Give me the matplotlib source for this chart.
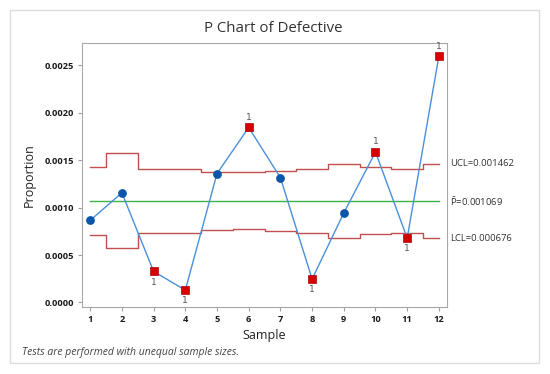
import numpy as np
import matplotlib.pyplot as plt
from matplotlib.patches import Rectangle

plt.rcParams['font.family'] = ['Open Sans', 'DejaVu Sans']

samples = np.arange(1, 13)
proportion = [0.000867, 0.001157, 0.000328, 0.000130, 0.001360, 0.001846,
              0.001317, 0.000247, 0.000945, 0.001587, 0.000679, 0.002598]
ucl = [0.001431, 0.001572, 0.001406, 0.001413, 0.001381, 0.001374,
       0.001392, 0.001410, 0.001463, 0.001424, 0.001410, 0.001462]
lcl = [0.000714, 0.000573, 0.000736, 0.000728, 0.000760, 0.000771,
       0.000753, 0.000735, 0.000683, 0.000718, 0.000733, 0.000676]
pbar = 0.001069
failed = [3, 4, 6, 8, 10, 11, 12]
label_above = [6, 10, 12]

W, H = 550, 374
fig = plt.figure(figsize=(5.5, 3.74), dpi=100)
fig.patches.append(Rectangle((10 / W, 1 - 363 / H), 529 / W, 353 / H,
                             transform=fig.transFigure, fill=False,
                             edgecolor='#dcdcdc', linewidth=1))
ax = fig.add_axes([81.5 / W, 1 - 307 / H, 365 / W, 263.5 / H])

ax.step(samples, ucl, where='mid', color='#c0504d', lw=1)
ax.step(samples, lcl, where='mid', color='#c0504d', lw=1)
ax.plot([1, 12], [pbar, pbar], color='#3cb44b', lw=1)
ax.plot(samples, proportion, color='#4a90d9', lw=1)

p = np.array(proportion)
ok = [i for i in samples if i not in failed]
ax.plot(ok, p[np.array(ok) - 1], 'o', color='#0b56a8', ms=5.3)
ax.plot(failed, p[np.array(failed) - 1], 's', color='#d50000', ms=5.3,
        markeredgecolor='#b00000', markeredgewidth=0.5)
# "1" = failed test 1, above or below the point
for s in failed:
    if s in label_above:
        ax.annotate('1', (s, p[s - 1]), xytext=(0, 4), textcoords='offset points',
                    ha='center', va='bottom', fontsize=6.5, color='#555555', family='DejaVu Sans')
    else:
        ax.annotate('1', (s, p[s - 1]), xytext=(0, -4.5), textcoords='offset points',
                    ha='center', va='top', fontsize=6.5, color='#555555', family='DejaVu Sans')

ax.set_xlim(0.725, 12.24)
ax.set_ylim(-0.0000475, 0.002732)
ax.set_xticks(samples)
ax.set_yticks([0, 0.0005, 0.001, 0.0015, 0.002, 0.0025])
ax.set_yticklabels(['0.0000', '0.0005', '0.0010', '0.0015', '0.0020', '0.0025'])
ax.tick_params(labelsize=6.7, length=3, pad=2.5, color='#a0a0a0', labelcolor='#1a1a1a')
for lab in ax.get_xticklabels() + ax.get_yticklabels():
    lab.set_fontweight('bold')
for sp in ax.spines.values():
    sp.set_color('#a8a8a8')

ax.set_xlabel('Sample', fontsize=9, color='#222222', labelpad=4)
ax.set_ylabel('Proportion', fontsize=9, color='#222222', labelpad=6)
fig.text(273 / W, 1 - 28 / H, 'P Chart of Defective', ha='center', va='center',
         fontsize=10.8, color='#333333')

ax.text(1.01, ucl[-1], 'UCL=0.001462', transform=ax.get_yaxis_transform(),
        va='center', fontsize=6.8, color='#333333')
ax.text(1.01, pbar, r'$\mathregular{\bar{P}}$=0.001069', transform=ax.get_yaxis_transform(),
        va='center', fontsize=6.8, color='#333333')
ax.text(1.01, lcl[-1], 'LCL=0.000676', transform=ax.get_yaxis_transform(),
        va='center', fontsize=6.8, color='#333333')

fig.text(22 / W, 1 - 353 / H, 'Tests are performed with unequal sample sizes.',
         fontsize=7.5, style='italic', color='#444444', va='center')

fig.savefig('out.png', dpi=100)
